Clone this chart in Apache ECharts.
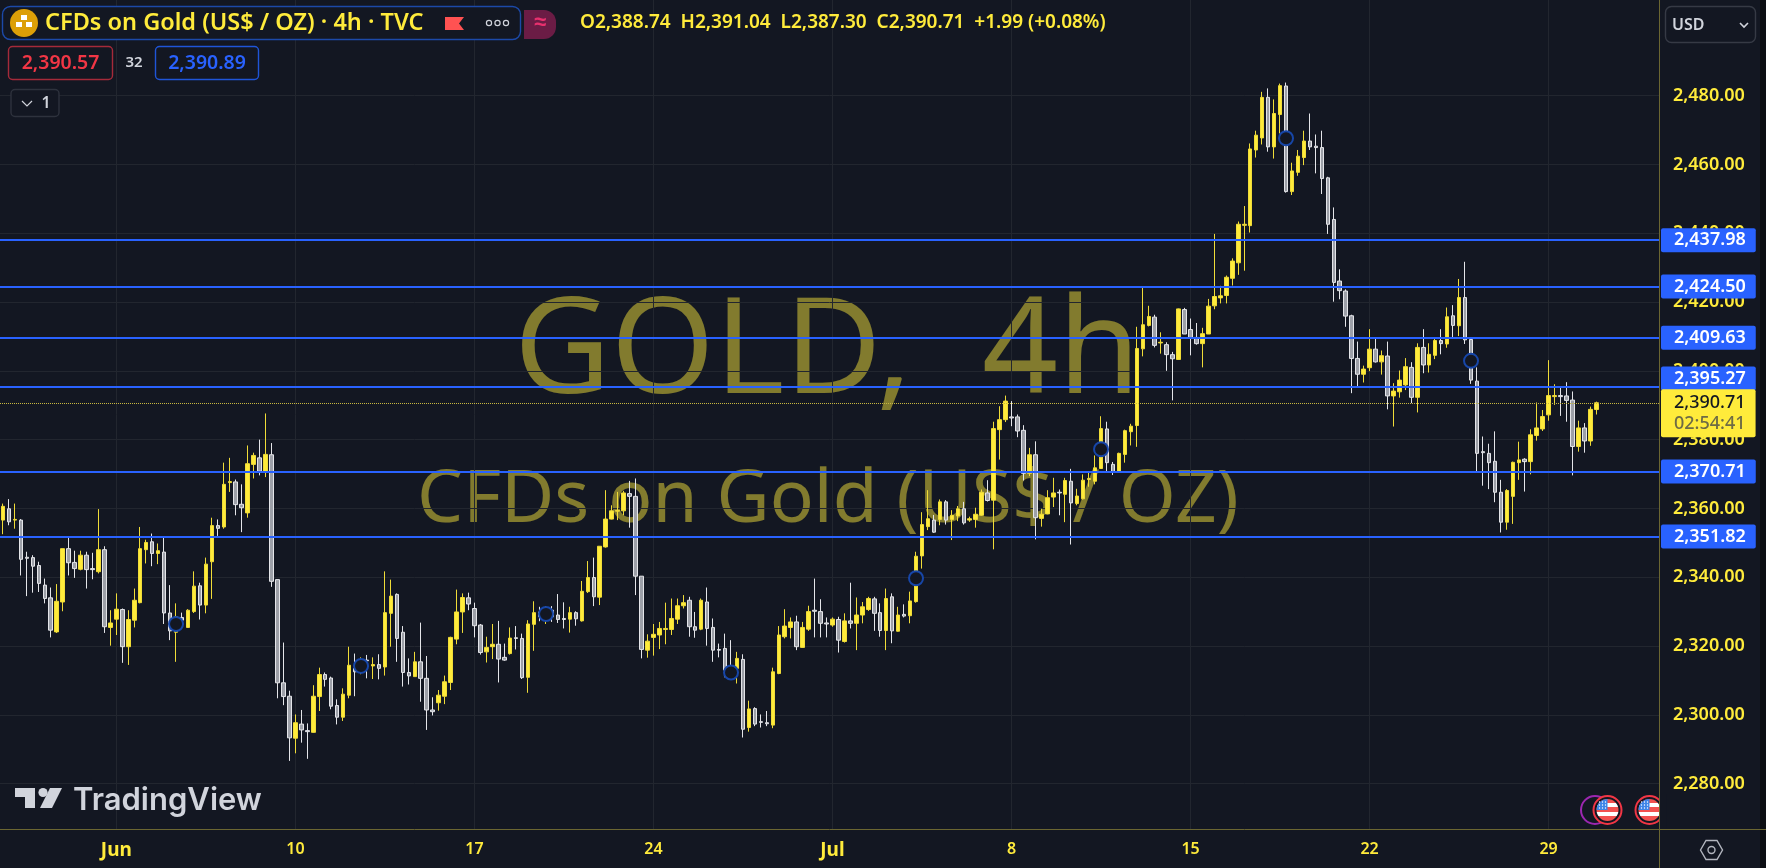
<!DOCTYPE html>
<html>
<head>
<meta charset="utf-8">
<title>GOLD 4h</title>
<script src="https://cdn.jsdelivr.net/npm/echarts@6/dist/echarts.min.js"></script>
<style>
  html, body { margin: 0; padding: 0; background: #131722; }
  #main { width: 1766px; height: 868px; }
</style>
</head>
<body>
<div id="main"></div>
<script>
// ohlc, one value per 4h bar
const opens = [
  2356.6,2359.9,2356.6,2356.6,2345.8,2345.7,2343.4,2337.7,2334.0,2324.1,2332.8,2348.3,2344.3,2342.3,2346.4,2342.5,2341.6,2348.0,2325.4,2327.8,
  2330.6,2319.8,2327.5,2332.6,2348.0,2350.3,2346.9,2347.3,2329.6,2324.0,2328.3,2325.4,2330.0,2337.5,2331.9,2344.5,2355.0,2354.6,2367.5,2367.7,
  2361.2,2358.7,2372.8,2374.7,2370.6,2375.6,2339.3,2309.3,2305.4,2293.2,2297.3,2295.4,2294.9,2305.3,2311.7,2310.7,2302.7,2299.3,2305.7,2313.5,
  2313.0,2315.9,2314.2,2314.6,2313.9,2329.5,2335.0,2324.0,2312.3,2311.1,2315.4,2310.6,2301.4,2303.5,2305.4,2309.4,2322.0,2329.9,2334.0,2330.9,
  2326.1,2318.3,2319.8,2320.5,2316.7,2317.8,2322.4,2322.2,2310.9,2326.3,2329.9,2328.0,2330.4,2329.0,2328.0,2327.8,2329.7,2327.3,2335.8,2339.9,
  2334.2,2348.8,2356.9,2359.2,2359.3,2364.3,2363.5,2340.3,2318.8,2322.5,2323.2,2324.8,2324.8,2327.8,2331.7,2333.3,2325.6,2324.9,2332.8,2325.4,
  2319.0,2319.3,2313.5,2313.5,2316.1,2296.3,2301.8,2298.0,2297.7,2297.0,2312.0,2322.7,2325.4,2327.0,2319.6,2324.9,2330.4,2330.0,2326.7,2326.1,
  2327.7,2321.3,2327.3,2326.6,2329.0,2330.6,2333.7,2329.7,2324.5,2334.3,2324.3,2329.2,2328.8,2332.9,2346.2,2354.7,2356.6,2356.8,2361.9,2356.8,
  2357.8,2359.9,2356.6,2356.8,2358.0,2364.5,2362.4,2382.9,2385.8,2386.6,2386.6,2382.7,2370.2,2375.6,2357.1,2358.4,2363.3,2364.7,2364.1,2367.9,
  2361.4,2362.8,2368.4,2367.9,2371.6,2383.1,2372.8,2370.8,2375.7,2382.3,2384.1,2406.4,2413.2,2415.6,2408.1,2407.6,2404.7,2403.3,2417.8,2412.0,
  2409.7,2407.9,2410.7,2418.9,2421.2,2421.9,2426.9,2431.4,2442.3,2442.2,2464.2,2467.7,2479.5,2465.1,2474.5,2482.8,2452.1,2457.7,2462.0,2466.8,
  2465.3,2464.9,2456.1,2444.0,2426.1,2423.2,2416.0,2403.6,2399.0,2400.9,2406.3,2402.6,2404.3,2392.7,2393.9,2395.9,2401.0,2392.3,2406.8,2401.7,
  2404.5,2408.8,2407.8,2416.0,2413.1,2421.3,2409.1,2397.0,2376.5,2376.0,2373.7,2364.7,2356.0,2363.5,2373.3,2374.3,2373.6,2381.2,2383.1,2387.2,
  2392.5,2392.8,2392.7,2391.5,2378.0,2383.4,2379.6,2388.74
];
const closes = [
  2360.6,2356.1,2356.8,2345.2,2345.5,2343.2,2338.2,2333.8,2324.6,2333.0,2348.3,2344.2,2342.5,2346.4,2342.2,2342.2,2348.0,2325.6,2326.7,2330.7,
  2319.8,2327.7,2333.3,2348.3,2350.1,2346.9,2347.7,2329.6,2324.4,2328.5,2327.5,2330.4,2337.4,2331.9,2343.8,2355.0,2354.2,2367.0,2367.8,2361.1,
  2360.2,2373.0,2375.4,2370.8,2375.7,2338.8,2309.3,2305.3,2293.3,2297.7,2295.6,2295.1,2305.4,2311.7,2310.3,2302.5,2299.3,2306.0,2314.4,2312.5,
  2315.4,2315.7,2314.6,2313.5,2329.7,2334.5,2322.2,2312.3,2311.3,2315.4,2310.6,2301.4,2300.9,2305.7,2309.6,2322.5,2329.9,2334.1,2332.2,2325.9,
  2318.1,2319.6,2320.5,2316.2,2315.9,2322.3,2322.2,2310.8,2326.4,2329.7,2328.5,2330.4,2328.5,2327.7,2327.7,2329.7,2327.9,2335.9,2339.9,2334.3,
  2349.0,2356.9,2359.3,2359.4,2364.5,2363.5,2340.3,2319.0,2321.4,2323.4,2325.1,2325.1,2328.0,2331.7,2332.6,2325.6,2324.6,2333.3,2325.1,2318.8,
  2318.8,2313.0,2311.1,2316.4,2295.8,2301.7,2297.3,2297.8,2297.4,2312.5,2323.2,2325.8,2327.0,2319.8,2325.4,2330.0,2330.1,2326.6,2326.4,2327.8,
  2321.7,2327.3,2326.6,2329.0,2331.4,2333.8,2329.5,2324.5,2333.8,2324.4,2329.0,2328.7,2333.1,2346.1,2355.3,2357.0,2353.1,2361.9,2356.6,2358.0,
  2359.9,2355.8,2357.0,2358.3,2364.7,2362.3,2383.2,2385.8,2391.2,2386.3,2382.5,2370.2,2375.6,2357.3,2358.3,2363.1,2364.5,2364.5,2368.1,2361.6,
  2363.6,2368.2,2368.7,2371.8,2383.2,2373.3,2370.6,2376.0,2382.6,2383.9,2406.5,2413.4,2415.8,2407.4,2408.3,2404.7,2403.5,2418.0,2410.7,2409.6,
  2407.9,2410.8,2418.8,2421.6,2421.8,2427.2,2431.9,2442.6,2442.6,2464.5,2468.5,2479.5,2465.1,2474.8,2482.9,2452.1,2458.1,2462.4,2466.8,2465.1,
  2464.9,2455.9,2442.6,2425.7,2423.3,2415.9,2403.6,2399.0,2400.5,2406.3,2402.6,2404.4,2392.7,2394.1,2397.3,2401.2,2392.3,2406.8,2401.7,2404.8,
  2408.8,2407.9,2415.7,2413.2,2421.3,2409.0,2397.3,2376.0,2376.2,2373.3,2364.7,2356.0,2365.2,2373.4,2374.1,2373.6,2381.4,2383.4,2386.7,2392.8,
  2392.8,2392.5,2391.4,2378.0,2383.4,2379.6,2388.8,2390.71
];
const lows = [
  2352.5,2355.1,2354.1,2340.5,2334.5,2335.5,2335.7,2332.4,2322.5,2323.8,2330.1,2340.5,2339.8,2342.0,2336.7,2339.4,2341.1,2323.8,2320.1,2323.2,
  2315.1,2314.5,2325.4,2332.4,2344.0,2343.2,2343.8,2326.4,2321.7,2315.4,2326.1,2325.4,2329.6,2327.7,2329.5,2333.7,2352.0,2354.1,2364.8,2358.0,
  2353.1,2357.3,2368.7,2369.6,2369.1,2337.2,2304.8,2302.8,2286.6,2288.8,2291.9,2287.2,2294.8,2301.1,2308.2,2301.6,2297.2,2298.2,2304.8,2305.4,
  2311.8,2310.6,2310.4,2310.3,2311.4,2319.8,2315.4,2308.2,2308.8,2311.1,2303.8,2295.6,2299.8,2301.2,2303.1,2307.2,2320.5,2323.8,2330.4,2322.5,
  2317.5,2315.2,2316.2,2309.4,2315.7,2317.5,2319.0,2310.4,2306.4,2318.6,2327.2,2326.4,2327.0,2326.7,2325.1,2323.9,2325.9,2327.1,2335.4,2331.6,
  2331.9,2348.6,2356.8,2356.6,2358.0,2354.4,2334.8,2316.4,2316.6,2317.2,2319.1,2320.5,2323.2,2326.4,2330.9,2322.7,2322.4,2324.6,2320.1,2315.4,
  2316.7,2310.9,2310.6,2309.1,2293.4,2295.1,2296.7,2296.3,2296.7,2296.1,2311.8,2322.2,2322.2,2318.8,2319.5,2324.4,2322.5,2322.5,2322.5,2325.6,
  2318.1,2321.0,2325.1,2318.8,2326.6,2330.2,2324.4,2322.7,2318.8,2320.8,2324.2,2328.3,2326.6,2332.6,2342.5,2353.7,2352.9,2355.1,2355.3,2350.8,
  2356.3,2355.3,2356.1,2354.4,2357.8,2362.0,2348.1,2374.2,2385.1,2383.9,2380.7,2368.1,2369.4,2351.0,2354.7,2358.3,2360.4,2358.0,2356.0,2349.5,
  2360.9,2362.6,2366.3,2367.0,2371.5,2370.4,2369.7,2370.6,2373.3,2378.3,2377.9,2404.2,2412.9,2406.8,2405.0,2400.0,2391.4,2403.3,2410.7,2404.5,
  2407.6,2401.0,2410.7,2417.9,2419.6,2419.6,2424.8,2427.9,2429.1,2440.2,2462.0,2465.8,2463.7,2461.7,2469.0,2451.8,2451.1,2456.7,2459.8,2464.2,
  2457.4,2451.4,2439.8,2420.1,2420.8,2412.8,2393.5,2395.2,2396.6,2399.9,2402.4,2398.9,2388.8,2383.8,2392.2,2394.4,2390.6,2387.9,2399.3,2399.5,
  2403.4,2404.8,2406.7,2409.5,2410.1,2407.8,2396.2,2370.5,2366.6,2365.6,2361.8,2353.0,2353.8,2355.5,2368.3,2364.9,2369.9,2379.7,2382.5,2385.5,
  2390.1,2386.9,2385.2,2369.6,2376.5,2376.2,2378.2,2387.30
];
const highs = [
  2361.4,2362.7,2361.4,2356.9,2347.4,2346.4,2344.5,2339.6,2337.0,2338.0,2348.3,2351.7,2347.7,2347.7,2347.4,2347.1,2359.8,2349.0,2330.4,2335.3,
  2330.9,2330.4,2336.7,2354.6,2350.9,2352.7,2349.8,2351.7,2337.7,2332.4,2329.7,2330.7,2341.7,2338.4,2345.7,2357.3,2356.8,2373.3,2374.7,2368.4,
  2367.0,2378.3,2376.2,2380.0,2387.6,2379.0,2339.3,2321.0,2307.0,2300.1,2301.4,2297.5,2308.6,2313.7,2312.3,2311.1,2304.5,2307.7,2319.8,2317.8,
  2316.7,2317.4,2316.7,2317.6,2341.7,2339.3,2335.3,2325.8,2316.4,2318.3,2326.8,2317.1,2305.1,2307.2,2311.4,2322.7,2336.4,2335.3,2335.5,2332.6,
  2326.4,2322.7,2326.4,2327.3,2320.7,2325.4,2325.8,2323.6,2327.5,2333.0,2331.4,2331.6,2331.6,2335.1,2332.7,2331.4,2330.1,2338.9,2344.7,2345.7,
  2349.0,2365.3,2360.9,2364.8,2365.1,2368.0,2368.7,2340.3,2323.4,2326.4,2327.0,2332.6,2333.8,2333.8,2334.8,2334.3,2329.9,2333.8,2337.0,2328.0,
  2320.7,2323.6,2321.7,2318.3,2317.6,2304.1,2302.2,2300.1,2301.1,2313.7,2325.8,2330.7,2328.3,2328.8,2327.0,2331.7,2339.6,2333.6,2328.3,2328.3,
  2328.5,2329.5,2338.4,2334.1,2332.8,2334.3,2334.3,2332.4,2336.7,2335.3,2331.4,2332.1,2335.8,2347.4,2358.9,2365.3,2358.1,2362.6,2362.4,2359.5,
  2360.7,2361.9,2357.6,2360.2,2365.5,2368.2,2385.2,2389.7,2392.8,2391.2,2387.3,2384.2,2377.6,2379.5,2359.9,2365.3,2368.9,2365.5,2368.9,2371.5,
  2365.7,2369.9,2370.6,2375.4,2386.8,2385.2,2373.5,2376.2,2382.9,2384.6,2412.8,2424.6,2418.9,2416.3,2411.2,2408.3,2405.5,2418.1,2418.3,2415.2,
  2413.9,2412.5,2420.9,2439.8,2424.7,2427.7,2432.7,2443.4,2447.9,2466.1,2469.8,2481.1,2482.1,2478.9,2483.5,2483.8,2460.5,2464.2,2469.8,2474.8,
  2468.7,2469.8,2456.4,2447.5,2429.5,2423.7,2416.3,2408.5,2401.5,2412.1,2409.4,2405.9,2408.5,2396.4,2400.1,2403.7,2402.5,2408.0,2412.1,2408.0,
  2409.7,2412.1,2418.4,2419.1,2426.7,2431.7,2409.4,2401.0,2380.9,2378.8,2382.4,2368.3,2365.6,2373.6,2379.4,2374.6,2383.0,2390.8,2388.6,2403.1,
  2396.1,2395.4,2396.7,2394.0,2385.5,2384.8,2389.6,2391.04
];

const dateTickIdx = [19, 49, 79, 109, 139, 169, 199, 229, 259];
const dateTickText = ['Jun', '10', '17', '24', 'Jul', '8', '15', '22', '29'];
const priceTicks = [2280, 2300, 2320, 2340, 2360, 2380, 2400, 2420, 2440, 2460, 2480];

// horizontal levels
const levelPrices = [2437.98, 2424.50, 2409.63, 2395.27, 2370.71, 2351.82];
const lastPrice = 2390.71;
const countdown = '02:54:41';

// little circle markers sitting on the bars
const markerIdx = [29, 60, 91, 122, 153, 184, 215, 246];
const markerPrice = [2326.4, 2314.2, 2329.3, 2312.3, 2339.7, 2377.2, 2467.6, 2402.9];

const categories = [];
for (let i = 0; i < 278; i++) {
  const k = dateTickIdx.indexOf(i);
  categories.push(k >= 0 ? dateTickText[k] : '');
}
const ohlc = opens.map((o, i) => [o, closes[i], lows[i], highs[i]]);
const fmt = v => v.toLocaleString('en-US', { minimumFractionDigits: 2, maximumFractionDigits: 2 });

const BG = '#131722';
const YELLOW = '#ffeb3b';
const BLUE = '#2962ff';
const AXIS = '#6b6632';
const FONT = '"Noto Sans", sans-serif';

function txt(x, y, text, fill, size, extra) {
  return {
    type: 'text', x: x, y: y, silent: true, z: 20,
    style: Object.assign({ text: text, fill: fill, font: '600 ' + size + 'px ' + FONT, textVerticalAlign: 'middle' }, extra || {})
  };
}
function box(x, y, w, h, stroke, fill, r) {
  return {
    type: 'rect', silent: true, z: 19,
    shape: { x: x, y: y, width: w, height: h, r: r === undefined ? 4 : r },
    style: { fill: fill || 'transparent', stroke: stroke || 'transparent', lineWidth: stroke ? 1.4 : 0 }
  };
}
// US flag bubble used at the bottom right
function flagBubble(cx, cy) {
  const dots = [];
  for (let a = 0; a < 3; a++) {
    for (let b = 0; b < 3; b++) {
      dots.push({ type: 'circle', silent: true, z: 13, shape: { cx: cx - 8 + b * 3, cy: cy - 8 + a * 3, r: 0.7 }, style: { fill: '#fff' } });
    }
  }
  return [
    { type: 'circle', silent: true, z: 11, shape: { cx: cx, cy: cy, r: 14 }, style: { fill: BG, stroke: '#f23645', lineWidth: 2 } },
    {
      type: 'circle', silent: true, z: 12, shape: { cx: cx, cy: cy, r: 11 },
      style: {
        fill: new echarts.graphic.LinearGradient(0, 0, 0, 1, [
          { offset: 0, color: '#f2514f' }, { offset: 0.2, color: '#f2514f' },
          { offset: 0.2, color: '#fff' }, { offset: 0.38, color: '#fff' },
          { offset: 0.38, color: '#f2514f' }, { offset: 0.58, color: '#f2514f' },
          { offset: 0.58, color: '#fff' }, { offset: 0.76, color: '#fff' },
          { offset: 0.76, color: '#f2514f' }, { offset: 1, color: '#f2514f' }
        ])
      }
    },
    { type: 'sector', silent: true, z: 12, shape: { cx: cx, cy: cy, r: 11, r0: 0, startAngle: Math.PI, endAngle: Math.PI * 1.5 }, style: { fill: '#3d85e8' } }
  ].concat(dots);
}

const graphicEls = [
  // watermark
  { type: 'text', silent: true, z: -1, x: 514, y: 355, style: { text: 'GOLD,', fill: 'rgba(255,235,59,0.47)', font: '133px ' + FONT, textVerticalAlign: 'middle' } },
  { type: 'text', silent: true, z: -1, x: 982, y: 355, style: { text: '4h', fill: 'rgba(255,235,59,0.47)', font: '133px ' + FONT, textVerticalAlign: 'middle' } },
  { type: 'text', silent: true, z: -1, x: 417, y: 501, style: { text: 'CFDs on Gold (US$ / OZ)', fill: 'rgba(255,235,59,0.47)', font: '73px ' + FONT, textVerticalAlign: 'middle' } },

  // legend row 1
  box(2.5, 6.5, 518, 33, '#1c49a8', BG, 8),
  { type: 'circle', silent: true, z: 20, shape: { cx: 24, cy: 23, r: 14 }, style: { fill: '#dc9f08' } },
  { type: 'rect', silent: true, z: 21, shape: { x: 21, y: 15, width: 6, height: 5 }, style: { fill: '#fff' } },
  { type: 'rect', silent: true, z: 21, shape: { x: 16, y: 22, width: 6, height: 5 }, style: { fill: '#fff' } },
  { type: 'rect', silent: true, z: 21, shape: { x: 26, y: 22, width: 6, height: 5 }, style: { fill: '#fff' } },
  txt(45, 23, 'CFDs on Gold (US$ / OZ) · 4h · TVC', YELLOW, 23.5),
  { type: 'polygon', silent: true, z: 20, shape: { points: [[445, 17], [464, 17], [459, 23.5], [464, 30], [445, 30]] }, style: { fill: '#ff5252' } },
  { type: 'circle', silent: true, z: 20, shape: { cx: 489, cy: 23, r: 2.6 }, style: { fill: 'transparent', stroke: '#d1d4dc', lineWidth: 1.2 } },
  { type: 'circle', silent: true, z: 20, shape: { cx: 497.5, cy: 23, r: 2.6 }, style: { fill: 'transparent', stroke: '#d1d4dc', lineWidth: 1.2 } },
  { type: 'circle', silent: true, z: 20, shape: { cx: 506, cy: 23, r: 2.6 }, style: { fill: 'transparent', stroke: '#d1d4dc', lineWidth: 1.2 } },
  box(524, 10, 32, 29, null, '#6b1c45', [0, 12, 12, 0]),
  txt(540, 23, '≈', '#e8306e', 22, { textAlign: 'center' }),
  txt(580, 23, 'O2,388.74  H2,391.04  L2,387.30  C2,390.71  +1.99 (+0.08%)', YELLOW, 19),

  // legend row 2
  box(8.5, 46.5, 104, 33, '#a52a3a', BG, 4),
  txt(60.5, 63, '2,390.57', '#f23645', 19.5, { textAlign: 'center' }),
  txt(134, 63, '32', '#d1d4dc', 15, { textAlign: 'center' }),
  box(155.5, 46.5, 103, 33, '#1f55d8', BG, 4),
  txt(207, 63, '2,390.89', BLUE, 19.5, { textAlign: 'center' }),

  // collapsed indicators
  box(11, 89.5, 48, 27, '#2e323d', BG, 4),
  { type: 'polyline', silent: true, z: 20, shape: { points: [[22, 101], [27, 106], [32, 101]] }, style: { fill: 'none', stroke: '#d1d4dc', lineWidth: 1.2 } },
  txt(46, 103, '1', '#d1d4dc', 16, { textAlign: 'center' }),

  // TradingView logo
  { type: 'polygon', silent: true, z: 20, shape: { points: [[15, 788], [35, 788], [35, 808], [25, 808], [25, 797], [15, 797]] }, style: { fill: '#d1d4dc' } },
  { type: 'circle', silent: true, z: 20, shape: { cx: 43, cy: 792.5, r: 4.6 }, style: { fill: '#d1d4dc' } },
  { type: 'polygon', silent: true, z: 20, shape: { points: [[50, 788], [62, 788], [52, 808], [40, 808]] }, style: { fill: '#d1d4dc' } },
  txt(73, 801, 'TradingView', '#d1d4dc', 31, { font: '600 31px Inter, ' + FONT }),

  // calendar bubbles
  { type: 'circle', silent: true, z: 10, shape: { cx: 1595, cy: 810, r: 14 }, style: { fill: 'transparent', stroke: '#9c27b0', lineWidth: 2 } }
].concat(flagBubble(1607.5, 810), flagBubble(1649.5, 810), [
  // price scale panel bits
  { type: 'rect', silent: true, z: 15, shape: { x: 1659.5, y: 794, width: 7, height: 34 }, style: { fill: BG } },
  { type: 'line', silent: true, z: 16, shape: { x1: 1659.5, y1: 0, x2: 1659.5, y2: 868 }, style: { stroke: AXIS, lineWidth: 1 } },
  { type: 'line', silent: true, z: 16, shape: { x1: 1659.5, y1: 829.5, x2: 1766, y2: 829.5 }, style: { stroke: AXIS, lineWidth: 1 } },
  { type: 'rect', silent: true, z: 15, shape: { x: 1760, y: 0, width: 6, height: 868 }, style: { fill: '#0c0e13' } },
  box(1665.5, 6.5, 90, 36, '#363a45', BG, 6),
  txt(1672, 25.5, 'USD', '#d1d4dc', 16),
  { type: 'polyline', silent: true, z: 20, shape: { points: [[1740, 23], [1744, 27], [1748, 23]] }, style: { fill: 'none', stroke: '#d1d4dc', lineWidth: 1.6 } },
  { type: 'polygon', silent: true, z: 20, shape: { points: [[1700.5, 850], [1706, 840.5], [1717, 840.5], [1722.5, 850], [1717, 859.5], [1706, 859.5]] }, style: { fill: 'none', stroke: '#b2b5be', lineWidth: 1.4 } },
  { type: 'circle', silent: true, z: 20, shape: { cx: 1711.5, cy: 850, r: 3.5 }, style: { fill: 'none', stroke: '#b2b5be', lineWidth: 1.4 } }
]);

const levelLines = levelPrices.map((p, i) => ({
  yAxis: p,
  lineStyle: { color: BLUE, width: 2, type: 'solid' },
  label: {
    show: true, position: 'end', distance: 2, formatter: fmt(p),
    color: '#fff', backgroundColor: BLUE, borderRadius: 2,
    fontFamily: FONT, fontSize: 18, fontWeight: 600, lineHeight: 16, padding: [4, 10, 4, 13],
    offset: p === 2395.27 ? [0, -8.5] : [0, 0]
  }
}));
const lastLine = {
  yAxis: lastPrice,
  lineStyle: { color: '#c9b83f', width: 1, type: 'dotted' },
  label: {
    show: true, position: 'end', distance: 2,
    formatter: '{p|' + fmt(lastPrice) + '}\n{t|' + countdown + '}',
    backgroundColor: YELLOW, borderRadius: 2, padding: [3, 10, 3, 13], offset: [0, 10.5],
    rich: {
      p: { color: '#131722', fontFamily: FONT, fontSize: 18, fontWeight: 500, lineHeight: 21 },
      t: { color: '#6e6b45', fontFamily: FONT, fontSize: 18, fontWeight: 500, lineHeight: 21 }
    }
  }
};

const chart = echarts.init(document.getElementById('main'), null, { renderer: 'canvas' });
chart.setOption({
  animation: false,
  backgroundColor: BG,
  grid: { left: 0, right: 107, top: 0, height: 829 },
  xAxis: {
    type: 'category',
    data: categories,
    boundaryGap: true,
    axisLine: { lineStyle: { color: AXIS } },
    axisTick: { show: false },
    axisLabel: {
      interval: i => dateTickIdx.indexOf(i) >= 0,
      formatter: v => (v === 'Jun' || v === 'Jul') ? '{m|' + v + '}' : v,
      color: YELLOW, fontFamily: FONT, fontSize: 16, fontWeight: 600, margin: 12,
      rich: { m: { color: YELLOW, fontFamily: FONT, fontSize: 19, fontWeight: 700 } }
    },
    splitLine: {
      show: true, alignWithLabel: true,
      interval: i => dateTickIdx.indexOf(i) >= 0,
      lineStyle: { color: '#22262f' }
    }
  },
  yAxis: {
    type: 'value',
    position: 'right',
    min: 2266.8,
    max: 2507.8,
    axisLine: { show: true, lineStyle: { color: AXIS } },
    axisTick: { show: false, customValues: priceTicks },
    axisLabel: {
      customValues: priceTicks,
      formatter: v => fmt(v),
      color: YELLOW, fontFamily: FONT, fontSize: 18, fontWeight: 600, margin: 14
    },
    splitLine: { show: true, lineStyle: { color: '#22262f' } }
  },
  graphic: { elements: graphicEls },
  series: [
    {
      type: 'candlestick',
      data: ohlc,
      barWidth: 4,
      itemStyle: {
        color: YELLOW, borderColor: '#f0dc38',
        color0: '#9da0a8', borderColor0: '#e4e5e9', borderWidth: 1
      },
      markLine: {
        silent: true, symbol: 'none', animation: false,
        data: levelLines.concat([lastLine])
      },
      z: 3
    },
    {
      type: 'scatter',
      data: markerIdx.map((m, i) => [m, markerPrice[i]]),
      symbolSize: 14,
      itemStyle: { color: BG, borderColor: '#1746a8', borderWidth: 2, opacity: 1 },
      silent: true,
      z: 5
    }
  ]
});
</script>
</body>
</html>
